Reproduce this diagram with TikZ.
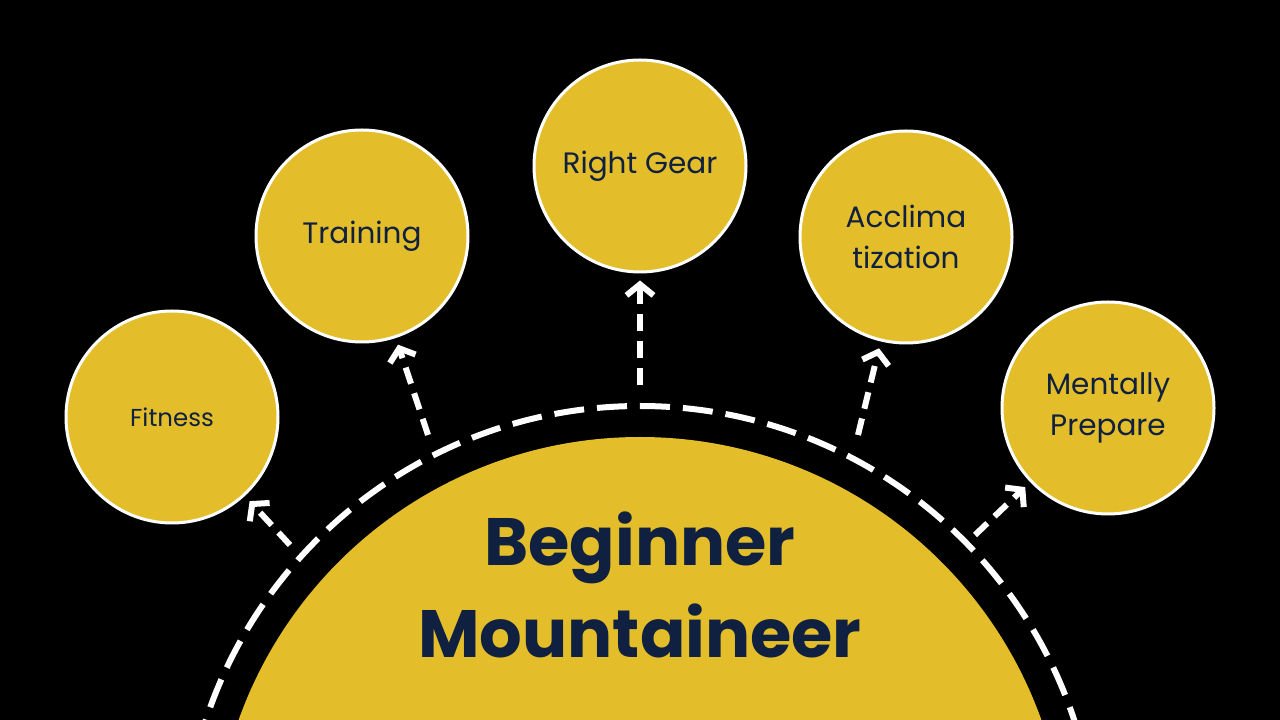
\documentclass[tikz,border=0pt]{standalone}
\usepackage{fontspec}
\setmainfont{Poppins}
\usetikzlibrary{positioning, arrows.meta, calc}
\definecolor{gold}{RGB}{227,190,42}
\definecolor{navy}{RGB}{16,32,64}
\tikzset{
    topic/.style={circle, fill=gold, draw=white, line width=3pt,
        minimum size=212pt, inner sep=0pt, align=center, text=navy,
        font=\fontsize{29.5}{41}\selectfont},
    link/.style={white, line width=6pt, dash pattern=on 17pt off 10pt,
        -{Straight Barb[length=11pt, width=27pt]}, shorten >=7pt},
}

\begin{document}
\begin{tikzpicture}[x=1pt, y=1pt]
    \fill [black] (0,0) rectangle (1280,720);
    \clip (0,0) rectangle (1280,720);
    \coordinate (hub) at (640,-143);
    \fill [gold] (hub) circle (426pt);
    \draw [white, line width=6pt, dash pattern=on 30pt off 13pt] (hub) circle (457pt);
    \node (title) [text=navy, align=center,
        font=\fontsize{67}{92}\selectfont\bfseries] at (640,135) {Beginner\\Mountaineer};
    \node (fitness) [topic, font=\fontsize{24.5}{30}\selectfont] at (172,303) {Fitness};
    \node (training) [topic] at (362,484) {Training};
    \node (gear) [topic] at (640,554) {Right Gear};
    \node (acclim) [topic] at (906,483) {Acclima\\tization};
    \node (mental) [topic] at (1108,312) {Mentally\\Prepare};
    \coordinate (fitness-s) at (290,175);
    \coordinate (training-s) at (428,285);
    \coordinate (gear-s) at (640,335);
    \coordinate (acclim-s) at (858,285);
    \coordinate (mental-s) at (975,185);
    \foreach \t in {fitness, training, gear, acclim, mental}
        \draw [link] (\t-s) -- (\t);
\end{tikzpicture}
\end{document}
